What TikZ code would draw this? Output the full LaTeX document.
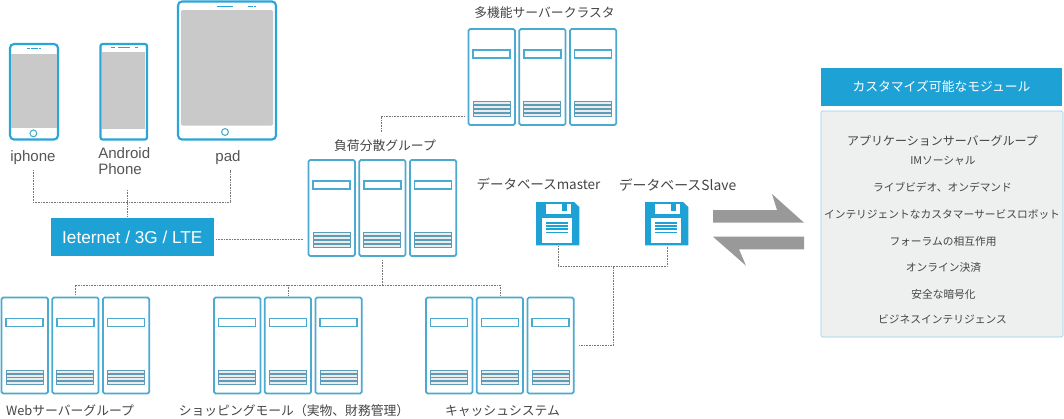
\documentclass[tikz,border=0pt]{standalone}
\usepackage{fontspec}
\setmainfont{Noto Sans CJK JP}
\newfontfamily\latinf{Liberation Sans}
\definecolor{bl}{HTML}{2AA5D8}
\definecolor{sv}{HTML}{4BAAD0}
\definecolor{grayscr}{HTML}{C9C9C9}
\definecolor{txt}{HTML}{444444}
\definecolor{devtxt}{HTML}{555555}
\definecolor{dash}{HTML}{777777}
\definecolor{arrowg}{HTML}{999999}
\definecolor{panel}{HTML}{EEEFEF}
\definecolor{banner}{HTML}{1EA2D6}
\tikzset{
  x=0.75pt,y=-0.75pt,
  lbl/.style={text=txt,font=\fontsize{9.6pt}{11.5pt}\selectfont,inner sep=0pt,align=center},
  dblbl/.style={text=txt,font=\fontsize{10.1pt}{11.5pt}\selectfont,inner sep=0pt,align=center},
  dev/.style={text=devtxt,font=\latinf\fontsize{11.3pt}{12.2pt}\selectfont,inner sep=0pt,align=left},
  mod/.style={text=txt,font=\fontsize{8.05pt}{9pt}\selectfont,inner sep=0pt},
  link/.style={draw=dash,dash pattern=on 0.7pt off 0.5pt,line width=0.65pt},
  case/.style={draw=bl,line width=1.6pt,fill=white,rounded corners=1.5pt},
  srvcase/.style={draw=sv,line width=1.3pt,fill=white,rounded corners=1.2pt},
  srvbar/.style={draw=sv,line width=1.2pt,fill=white},
  srvvent/.style={draw=sv!70!gray,line width=0.7pt,fill=gray!15},
  spk/.style={draw=bl,line width=1.2pt},
  pics/srv/.style={code={
    \draw[srvcase] (0,0) rectangle (46.4,96);
    \draw[srvbar] (4.6,20.8) rectangle (41.6,28.8);
    \foreach \yy in {72.8,76.6,80.4,84.2}{\draw[srvvent] (4.6,\yy) rectangle (41.6,\yy+3);}
  }},
  pics/rack/.style={code={
    \pic at (0,0) {srv};
    \pic at (50.7,0) {srv};
    \pic at (101.4,0) {srv};
  }},
  pics/disk/.style={code={
    \fill[banner] (0,0) -- (38,0) -- (43.3,5) -- (43.3,43.3) -- (0,43.3) -- cycle;
    \fill[white] (10,1.5) rectangle (35,12);
    \fill[banner] (26.3,1.5) rectangle (31.3,8.7);
    \fill[white] (5.7,16.3) rectangle (35.7,41.3);
    \foreach \yy in {19.8,23.1,26.4,29.7}{\fill[banner] (10,\yy) rectangle (32,\yy+1.7);}
  }},
}
\begin{document}
\begin{tikzpicture}
\useasboundingbox (0,0) rectangle (1064,418);
% devices
\draw[case,rounded corners=3pt] (10,44) rectangle (58,139.5);
\fill[grayscr] (11.3,53.5) rectangle (56.7,127.5);
\draw[sv,line width=0.8pt] (33.4,133.4) circle (3.4);
\draw[spk] (27,48.3) -- (29.5,48.3) (31,48.3) -- (37.5,48.3) (39,48.3) -- (40.5,48.3);
\draw[case] (100.5,44) rectangle (147,139.5);
\fill[grayscr] (102.3,52) rectangle (145.3,128.5);
\draw[spk] (110.5,47.5) -- (114.5,47.5) (118,47.5) -- (130,47.5) (135,47.5) -- (138,47.5);
\draw[case,rounded corners=3pt] (178,1.5) rectangle (276,139.5);
\fill[grayscr,rounded corners=1.5pt] (181,10) rectangle (273,125.7);
\draw[sv,line width=0.8pt] (225,132) circle (3.4);
\draw[spk] (217,6.5) -- (233,6.5) (248,6.5) -- (252.5,6.5) (254,6.5) -- (256,6.5);
\node[dev,anchor=center] (iph) at (33,157.5) {iphone};
\node[dev,anchor=north west] (and) at (98,147.5) {Android\\Phone};
\node[dev,anchor=center] (pad) at (228,157.5) {pad};
% internet
\node[fill=banner,text=white,minimum width=122pt,minimum height=28.5pt,inner sep=0pt,
  font=\latinf\fontsize{12.9pt}{14pt}\selectfont] (net) at (132.3,237) {Ieternet / 3G / LTE};
\coordinate (iphd) at (33,170);
\coordinate (padd) at (230,170);
\coordinate (join) at (127,202);
\coordinate (jtop) at (127,190);
\coordinate (jbot) at (127,217);
\draw[link] (iphd) |- (join) -| (padd);
\draw[link] (jtop) -- (jbot);
\coordinate (netr) at (216,239);
\coordinate (lbl) at (303,239);
\draw[link] (netr) -- (lbl);
% racks
\pic at (468.5,29) {rack};
\pic at (308.5,160) {rack};
\pic at (1.5,297.5) {rack};
\pic at (214,297.5) {rack};
\pic at (426,297.5) {rack};
\node[lbl] (t1) at (544.5,13) {多機能サーバークラスタ};
\node[lbl] (t2) at (385,146) {負荷分散グループ};
\node[lbl] (t3) at (70,411) {Webサーバーグループ};
\node[lbl] (t4) at (294,411) {ショッピングモール（実物、財務管理）};
\node[lbl] (t5) at (502.5,411) {キャッシュシステム};
\node[dblbl] (t6) at (538.5,184) {データベースmaster};
\node[dblbl,font=\fontsize{10.4pt}{11.5pt}\selectfont] (t7) at (677.5,184.5) {データベースSlave};
% links
\coordinate (a) at (465,116);
\coordinate (b) at (381,116);
\coordinate (c) at (381,132);
\draw[link] (a) -- (b) -- (c);
\coordinate (lbbot) at (382,260);
\coordinate (bus) at (382,285);
\coordinate (busl) at (75,285);
\coordinate (busm) at (288,285);
\coordinate (busr) at (500,285);
\coordinate (dl) at (75,295);
\coordinate (dm) at (288,295);
\coordinate (dr) at (500,295);
\draw[link] (lbbot) -- (bus);
\draw[link] (dl) -- (busl) -- (busr) -- (dr);
\draw[link] (busm) -- (dm);
% disks
\pic at (536,202) {disk};
\pic at (645,202) {disk};
\coordinate (d1) at (558,246);
\coordinate (d2) at (667,246);
\coordinate (dj) at (613.5,266.7);
\coordinate (dc) at (613.5,345.3);
\coordinate (de) at (579,345.3);
\draw[link] (d1) |- (dj) -| (d2);
\draw[link] (dj) -- (dc) -- (de);
% arrows
\fill[arrowg] (713,210) -- (777,210) -- (772,194) -- (804,222.7) -- (713,222.7) -- cycle;
\fill[arrowg] (713,236.7) -- (804,236.7) -- (804,249.3) -- (739,249.3) -- (746,265.7) -- cycle;
% module panel
\node[fill=banner,text=white,minimum width=180.75pt,minimum height=28.2pt,inner sep=0pt,
  font=\fontsize{9.6pt}{11pt}\selectfont] (head) at (941.5,86.8) {カスタマイズ可能なモジュール};
\node[draw=bl!50,line width=0.6pt,fill=panel,minimum width=181.5pt,minimum height=169.5pt,rounded corners=1pt,inner sep=0pt] (box) at (942,224) {};
\node[mod,font=\fontsize{9pt}{10pt}\selectfont] (m1) at (942.5,141) {アプリケーションサーバーグループ};
\node[mod] (m2) at (943,160.5) {IMソーシャル};
\node[mod] (m3) at (942.5,187) {ライブビデオ、オンデマンド};
\node[mod] (m4) at (942,214) {インテリジェントなカスタマーサービスロボット};
\node[mod] (m5) at (943,241) {フォーラムの相互作用};
\node[mod] (m6) at (943.5,267) {オンライン決済};
\node[mod] (m7) at (943.5,294) {安全な暗号化};
\node[mod] (m8) at (942.5,319) {ビジネスインテリジェンス};
\end{tikzpicture}
\end{document}
